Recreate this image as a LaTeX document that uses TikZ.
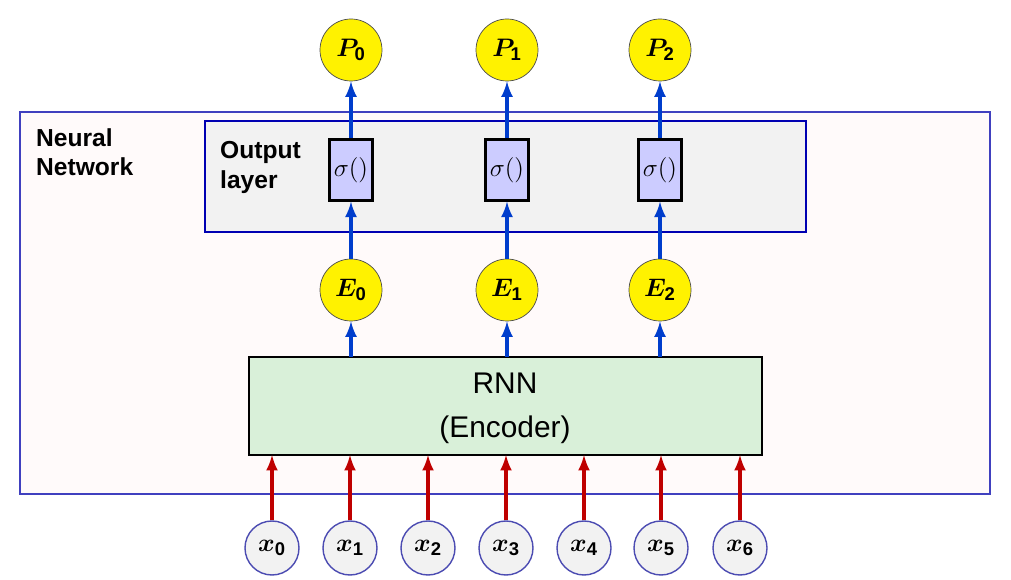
\documentclass[tikz,border=0pt]{standalone}
\usepackage{amsmath,bm}
\usepackage{fontspec}
\setmainfont{Liberation Sans}
\begin{document}
\begin{tikzpicture}[x=0.02cm,y=-0.02cm,
  circ/.style={circle,draw=black!70,fill=yellow,minimum size=62*0.02cm,inner sep=0pt,font=\fontsize{15}{18}\selectfont},
  xc/.style={circle,draw=blue!40!gray,line width=0.8pt,fill=gray!10,minimum size=54*0.02cm,inner sep=0pt,font=\fontsize{15}{18}\selectfont},
  sig/.style={draw=black,line width=1.2pt,fill=blue!20,minimum width=43*0.02cm,minimum height=61*0.02cm,inner sep=0pt,font=\fontsize{14}{16}\selectfont},
  barr/.style={-latex,line width=2pt,draw=blue!70!cyan!80!black},
  rarr/.style={-latex,line width=2pt,draw=red!75!black}]
\useasboundingbox (0,0) rectangle (1011,580);
\fill[white] (0,0) rectangle (1011,580);
\draw[fill=red!2,draw=blue!50!gray,line width=0.8pt] (20,112) rectangle (990,494);
\draw[fill=gray!10,draw=blue!70!black,line width=0.8pt] (205,121) rectangle (806,232);
\draw[fill=green!25!gray!20!white,fill=green!60!black!15,draw=black,line width=1.2pt] (249,357) rectangle (762,455);
\node[font=\fontsize{17}{21}\selectfont] (rnn) at (505,383) {RNN};
\node[font=\fontsize{17}{21}\selectfont] (enc) at (505,430) {(Encoder)};
\coordinate (rnnt) at (505,357);
\node[font=\bfseries\fontsize{14}{17}\selectfont,align=left,anchor=north west] (nn) at (30,122) {Neural\\Network};
\node[font=\bfseries\fontsize{14}{17}\selectfont,align=left,anchor=north west] (ol) at (214,135) {Output\\layer};
\foreach \i/\x in {0/351,1/507,2/660}{
  \node[circ] (P\i) at (\x,50) {$\bm{P}_{\mathbf{\i}}$};
  \node[sig] (S\i) at (\x,170) {$\sigma()$};
  \node[circ] (E\i) at (\x,290) {$\bm{E}_{\mathbf{\i}}$};
  \coordinate (R\i) at (\x,357);
  \draw[barr] (R\i) -- (E\i);
  \draw[barr] (E\i) -- (S\i);
  \draw[barr] (S\i) -- (P\i);
}
\foreach \i/\x in {0/272,1/350,2/428,3/506,4/584,5/661,6/740}{
  \node[xc] (x\i) at (\x,548) {$\bm{x}_{\mathbf{\i}}$};
  \coordinate (B\i) at (\x,455);
  \draw[rarr] (x\i) -- (B\i);
}
\end{tikzpicture}
\end{document}
